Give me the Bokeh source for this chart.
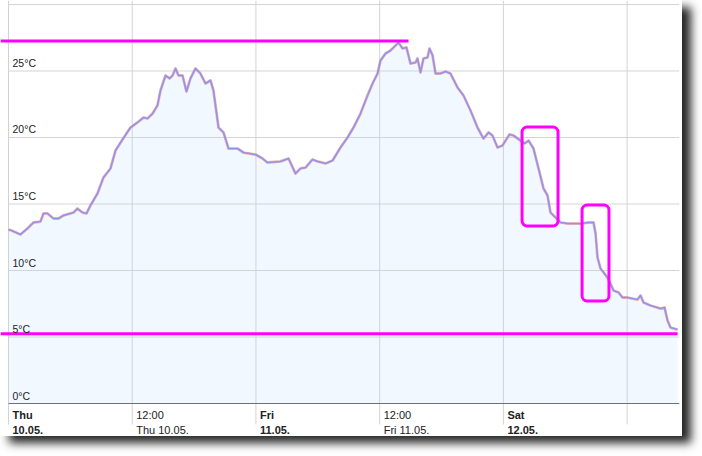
from bokeh.plotting import figure
from bokeh.models import Range1d, ColumnDataSource
from bokeh.core.properties import value
from bokeh.embed import file_html
from bokeh.resources import INLINE

# hours after Thu 10.05. 00:00
hours = [0.00, 0.29, 1.16, 1.84, 2.42, 3.10, 3.39, 3.78, 4.36, 4.85, 5.33, 6.01, 6.31, 6.69, 7.18, 7.57,
         7.95, 8.63, 9.21, 9.89, 10.38, 11.06, 11.83, 12.51, 13.09, 13.48, 13.97, 14.45, 14.74, 15.23,
         15.62, 15.91, 16.20, 16.49, 16.88, 17.26, 17.65, 18.14, 18.62, 19.11, 19.59, 19.88, 20.37,
         20.85, 21.34, 22.21, 22.79, 23.96, 24.64, 25.12, 26.38, 27.16, 27.84, 28.32, 28.81, 29.49,
         29.97, 30.75, 31.43, 32.20, 32.88, 33.46, 34.14, 34.82, 35.31, 35.79, 36.08, 36.57, 37.05,
         37.54, 37.83, 38.22, 38.60, 38.99, 39.48, 39.67, 39.96, 40.25, 40.64, 40.83, 41.13, 41.42,
         41.90, 42.39, 42.87, 43.55, 44.13, 44.81, 45.49, 46.07, 46.56, 46.94, 47.43, 47.91, 48.21,
         48.59, 48.98, 49.66, 50.05, 50.44, 50.92, 51.41, 51.89, 52.28, 52.57, 53.06, 53.54, 54.22,
         54.80, 55.48, 56.26, 56.74, 56.94, 57.13, 57.42, 58.10, 58.68, 59.17, 59.55, 60.04, 60.52,
         61.01, 61.30, 61.59, 62.27, 63.24, 63.63, 63.92, 64.21, 64.89]
temps = [13.08, 13.01, 12.71, 13.16, 13.61, 13.68, 14.29, 14.29, 13.91, 13.91, 14.14, 14.29, 14.36, 14.66,
         14.36, 14.29, 14.89, 15.79, 16.99, 17.67, 19.02, 19.85, 20.75, 21.13, 21.50, 21.43, 21.80,
         22.41, 23.53, 24.66, 24.44, 24.66, 25.19, 24.66, 24.66, 23.46, 24.44, 25.19, 24.81, 24.06,
         24.29, 23.53, 20.75, 20.38, 19.17, 19.17, 18.87, 18.72, 18.42, 18.12, 18.20, 18.42, 17.29,
         17.67, 17.74, 18.35, 18.20, 18.05, 18.27, 19.25, 20.00, 20.75, 21.80, 23.16, 24.06, 24.81,
         25.79, 26.32, 26.54, 26.92, 27.14, 26.69, 26.77, 25.56, 25.64, 25.94, 24.89, 25.94, 26.02,
         26.69, 26.17, 24.81, 24.81, 24.96, 24.81, 23.76, 23.16, 22.03, 20.75, 19.92, 20.38, 20.15,
         19.25, 19.40, 19.77, 20.23, 20.15, 19.77, 19.55, 19.77, 19.17, 17.67, 16.17, 15.64, 14.36,
         13.98, 13.61, 13.53, 13.53, 13.53, 13.61, 13.61, 12.78, 10.98, 10.15, 9.47, 8.50, 8.35,
         7.97, 7.97, 7.89, 7.82, 8.12, 7.59, 7.37, 7.14, 7.22, 6.24, 5.71, 5.56]

y_ticks = [0, 5, 10, 15, 20, 25, 30]
y_label_values = [0, 5, 10, 15, 20, 25]
y_labels = ["0°C", "5°C", "10°C", "15°C", "20°C", "25°C"]

x_ticks = [0, 12, 24, 36, 48, 60]
day_ticks = [0, 24, 48]
day_names = ["Thu", "Fri", "Sat"]
day_dates = ["10.05.", "11.05.", "12.05."]
noon_ticks = [12, 36]
noon_times = ["12:00", "12:00"]
noon_dates = ["Thu 10.05.", "Fri 11.05."]

# highlighted annotations
upper_level = 27.26
upper_end = 38.8
lower_level = 5.24
lower_end = 64.9
box_left = [49.81, 55.63]
box_right = [53.30, 58.24]
box_top = [20.79, 14.92]
box_bottom = [13.35, 7.71]

X0, X1 = -0.776, 65.08
p = figure(width=682, height=436, x_range=Range1d(X0, X1), y_range=Range1d(-2.48, 30.30),
           x_axis_location=None, y_axis_location=None, toolbar_location=None,
           output_backend="svg", min_border=0, min_border_right=3)
p.outline_line_color = None
p.background_fill_color = "white"
p.border_fill_color = "white"
p.xgrid.visible = False
p.ygrid.visible = False
p.styles = {"box-shadow": "9px 7px 9px rgba(0,0,0,0.85)"}

src = ColumnDataSource(dict(h=hours, t=temps, z=[0] * len(hours)))
p.varea(x="h", y1="z", y2="t", source=src, fill_color="#e4f1ff", fill_alpha=0.5)

# horizontal grid lines
p.segment(x0=[0] * len(y_ticks), y0=y_ticks, x1=[X1] * len(y_ticks), y1=y_ticks,
          line_color="#d4d4d4", line_width=1)
# vertical grid lines
p.segment(x0=x_ticks, y0=[-1.58] * len(x_ticks), x1=x_ticks, y1=[30.3] * len(x_ticks),
          line_color="#cfd3d8", line_width=1)
# axis line at 0
p.segment(x0=[0], y0=[0], x1=[X1], y1=[0], line_color="#707070", line_width=1)

p.line(x="h", y="t", source=src, line_color="#f29a9a", line_width=2.8, line_alpha=0.75,
       line_join="round")
p.line(x="h", y="t", source=src, line_color="#8a92ee", line_width=1.6, line_alpha=0.95,
       line_join="round")

p.line(x=[X0, upper_end], y=[upper_level, upper_level], line_color="#ff00ff", line_width=3)
p.line(x=[X0, lower_end], y=[lower_level, lower_level], line_color="#ff00ff", line_width=3)
p.quad(left=box_left, right=box_right, top=box_top, bottom=box_bottom, fill_alpha=0,
       line_color="#ff00ff", line_width=3, border_radius=5)

font = value("Liberation Sans")
p.text(x=[0] * len(y_labels), y=y_label_values, text=y_labels, x_offset=4, y_offset=-8,
       text_baseline="middle", text_align="left", text_font=font, text_font_size="10.5px",
       text_color="#222222")

p.text(x=day_ticks, y=[0] * 3, text=day_names, x_offset=4, y_offset=11, text_baseline="middle",
       text_font=font, text_font_size="11px", text_font_style="bold", text_color="#222222")
p.text(x=day_ticks, y=[0] * 3, text=day_dates, x_offset=4, y_offset=26, text_baseline="middle",
       text_font=font, text_font_size="11px", text_font_style="bold", text_color="#222222")
p.text(x=noon_ticks, y=[0] * 2, text=noon_times, x_offset=4, y_offset=11, text_baseline="middle",
       text_font=font, text_font_size="11px", text_color="#222222")
p.text(x=noon_ticks, y=[0] * 2, text=noon_dates, x_offset=4, y_offset=26, text_baseline="middle",
       text_font=font, text_font_size="11px", text_color="#222222")

open("out.html", "w").write(file_html(p, INLINE))
